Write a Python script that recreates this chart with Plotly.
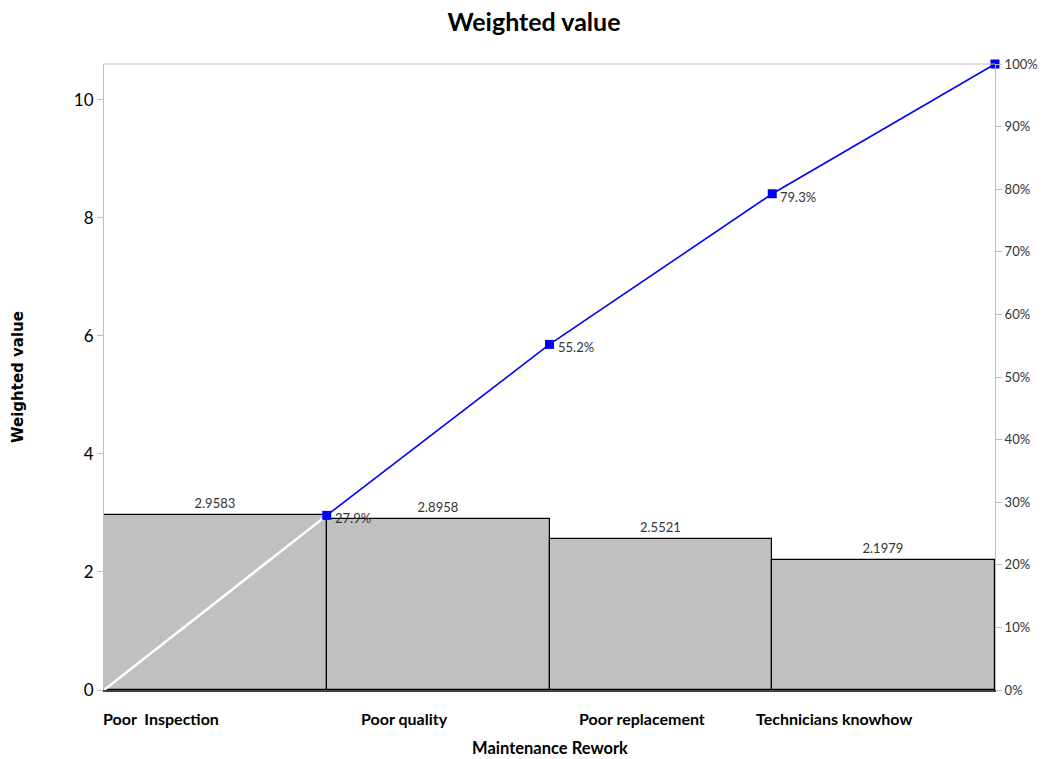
import plotly.graph_objects as go
import numpy as np

# Pareto data: maintenance rework causes and their weighted values
categories = ["Poor\u00a0 Inspection", "Poor quality", "Poor replacement", "Technicians knowhow"]
weighted_values = [2.9583, 2.8958, 2.5521, 2.1979]
value_labels = ["2.9583", "2.8958", "2.5521", "2.1979"]
pct_ticks = [0, 0.1, 0.2, 0.3, 0.4, 0.5, 0.6, 0.7, 0.8, 0.9, 1.0]
left_ticks = [0, 2, 4, 6, 8, 10]

# category label placement along the x axis (label centres)
category_label_x = [0.256, 1.351, 2.415, 3.277]

FONT = "Lato, Roboto, sans-serif"

vals = np.array(weighted_values)
total = vals.sum()
cum_pct = np.cumsum(vals) / total
n = len(vals)
bar_x = np.arange(n) + 0.5
edge_x = np.arange(1, n + 1)

fig = go.Figure()

fig.add_trace(go.Bar(
    x=bar_x, y=vals, width=1.0,
    marker=dict(color="#C0C0C0", line=dict(color="#000000", width=1.2)),
    text=value_labels, textposition="outside", cliponaxis=False,
    textfont=dict(family=FONT, size=13, color="#333333"),
    showlegend=False, hoverinfo="skip",
))

# first cumulative segment from origin
fig.add_trace(go.Scatter(
    x=[0, edge_x[0]], y=[0, cum_pct[0]], yaxis="y2", mode="lines",
    line=dict(color="#FFFFFF", width=2.5), showlegend=False, hoverinfo="skip",
))

fig.add_trace(go.Scatter(
    x=edge_x, y=cum_pct, yaxis="y2", mode="lines+markers",
    line=dict(color="#0000FF", width=1.6),
    marker=dict(symbol="square", size=9, color="#0000FF"),
    cliponaxis=False, showlegend=False, hoverinfo="skip",
))

annotations = []
# cumulative percentage labels beside the markers (last point is on the 100% tick)
for px, p in zip(edge_x[:-1], cum_pct[:-1]):
    annotations.append(dict(
        x=px, y=p, xref="x", yref="y2", text=f"{p*100:.1f}%",
        showarrow=False, xanchor="left", yanchor="middle", xshift=6, yshift=-3,
        font=dict(family=FONT, size=13, color="#333333"),
    ))

pixel_annotations = []
for cx, name in zip(category_label_x, categories):
    pixel_annotations.append(dict(
        x=cx, y=718, xref="x", yref="paper", text=f"<b>{name}</b>",
        showarrow=False, xanchor="center", yanchor="middle",
        font=dict(family=FONT, size=16, color="#000000"),
    ))
# axis titles
pixel_annotations.append(dict(
    x=550, y=748, xref="paper", yref="paper", text="<b>Maintenance Rework</b>",
    showarrow=False, xanchor="center", yanchor="middle",
    font=dict(family=FONT, size=16.5, color="#000000"),
))
pixel_annotations.append(dict(
    x=18, y=377, xref="paper", yref="paper", text="<b>Weighted value</b>", textangle=-90,
    showarrow=False, xanchor="center", yanchor="middle",
    font=dict(family="DejaVu Sans, Verdana, sans-serif", size=15, color="#000000"),
))

# convert pixel positions of these annotations to paper coordinates
plot_l, plot_r, plot_t, plot_b = 104, 995, 64, 690
W, H = 1042, 759
for a in pixel_annotations:
    if a["yref"] == "paper":
        a["y"] = (plot_b - a["y"]) / (plot_b - plot_t)
    if a["xref"] == "paper":
        a["x"] = (a["x"] - plot_l) / (plot_r - plot_l)
annotations += pixel_annotations

fig.update_layout(
    width=W, height=H,
    margin=dict(l=plot_l, r=W - plot_r, t=plot_t, b=H - plot_b, autoexpand=False),
    paper_bgcolor="white", plot_bgcolor="white",
    title=dict(text="<b>Weighted value</b>", x=534 / W, xanchor="center", y=1 - 22 / H, yanchor="middle",
               font=dict(family=FONT, size=25, color="#000000")),
    xaxis=dict(range=[0, n], showticklabels=False, ticks="", showgrid=False, zeroline=False,
               showline=True, linecolor="#404040", linewidth=1.5, mirror=False),
    yaxis=dict(range=[0, total], tickvals=left_ticks, showgrid=False, zeroline=False,
               showline=True, linecolor="#BFBFBF", linewidth=1, ticks="outside", ticklen=6,
               tickcolor="#BFBFBF", tickfont=dict(family=FONT, size=17, color="#000000"),
               automargin=False),
    yaxis2=dict(range=[0, 1], overlaying="y", side="right", tickvals=pct_ticks, tickformat=".0%",
                showgrid=False, zeroline=False, showline=True, linecolor="#BFBFBF", linewidth=1,
                ticks="outside", ticklen=6, tickcolor="#BFBFBF", automargin=False,
                tickfont=dict(family=FONT, size=13, color="#333333")),
    annotations=annotations,
    shapes=[dict(type="line", xref="paper", yref="paper", x0=0, x1=1, y0=1, y1=1,
                 line=dict(color="#BFBFBF", width=1))],
    bargap=0,
)

fig.write_html("out.html")
